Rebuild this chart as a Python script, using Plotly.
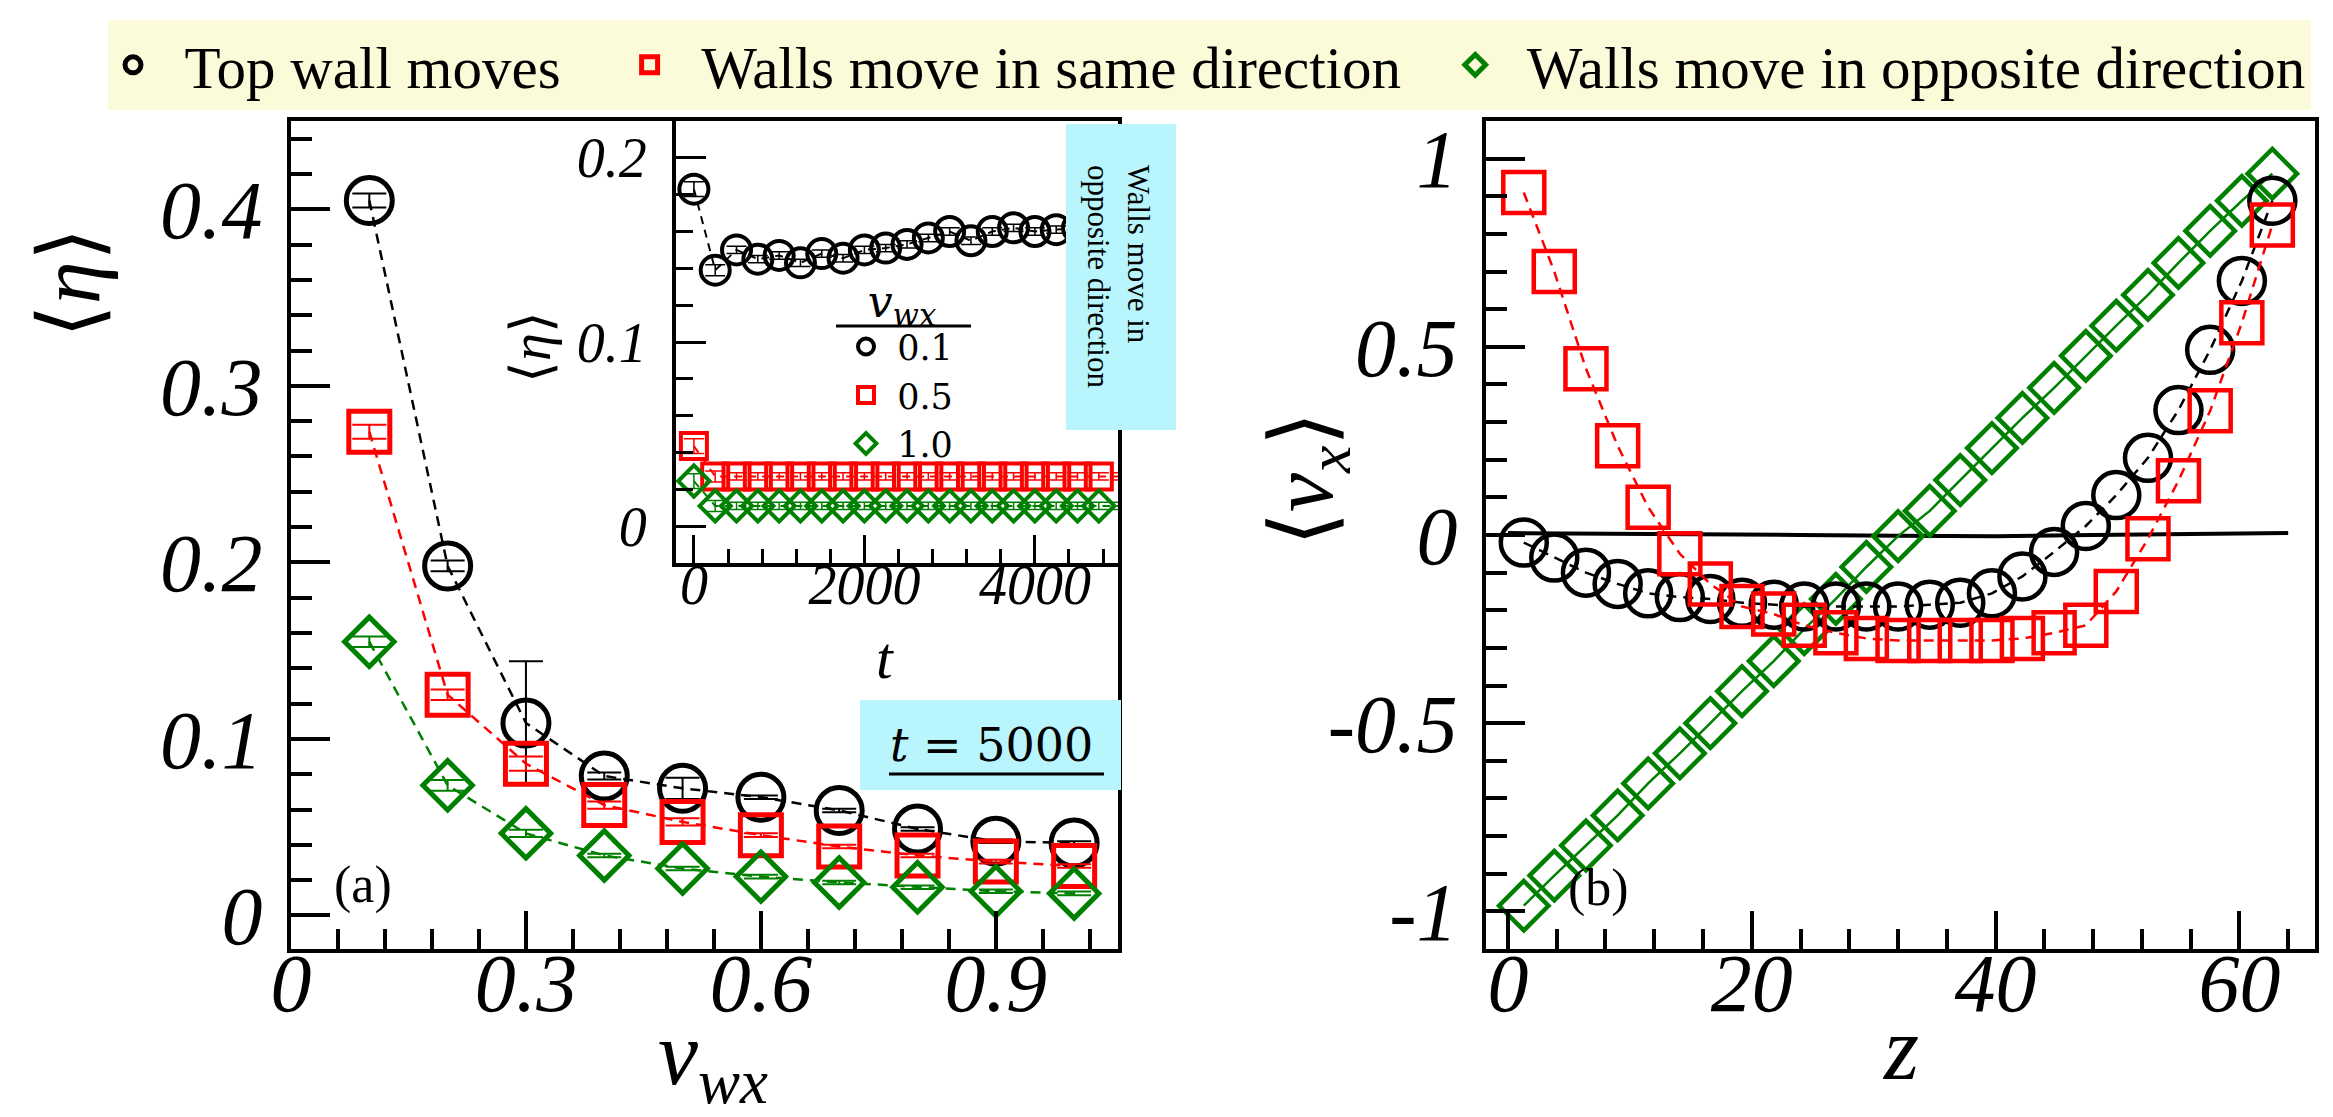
import plotly.graph_objects as go

W, H = 2333, 1117

# ---------------- data: panel (a) main ----------------
vwx = [0.1, 0.2, 0.3, 0.4, 0.5, 0.6, 0.7, 0.8, 0.9, 1.0]
eta_top = [0.405, 0.198, 0.109, 0.079, 0.072, 0.067, 0.0595, 0.049, 0.042, 0.041]
eta_top_err = [0.004, 0.003, 0.035, 0.002, 0.006, 0.001, 0.001, 0.001, 0.001, 0.001]
eta_same = [0.274, 0.125, 0.086, 0.0625, 0.053, 0.0455, 0.039, 0.034, 0.0305, 0.028]
eta_same_err = [0.004, 0.003, 0.004, 0.002, 0.002, 0.001, 0.001, 0.001, 0.001, 0.001]
eta_opp = [0.155, 0.0737, 0.0465, 0.034, 0.0266, 0.022, 0.0187, 0.016, 0.0137, 0.0125]
eta_opp_err = [0.003, 0.003, 0.002, 0.001, 0.001, 0.001, 0.001, 0.001, 0.001, 0.001]

# ---------------- data: panel (a) inset ----------------
t_vals = [0, 250, 500, 750, 1000, 1250, 1500, 1750, 2000, 2250, 2500, 2750, 3000,
          3250, 3500, 3750, 4000, 4250, 4500, 4750, 5000]
eta_t_01 = [0.183, 0.139, 0.150, 0.145, 0.147, 0.143, 0.148, 0.1455, 0.150, 0.151, 0.153,
            0.1565, 0.160, 0.155, 0.160, 0.162, 0.160, 0.161, 0.162, 0.163, 0.163]
eta_t_05 = [0.0435, 0.027, 0.027, 0.027, 0.027, 0.027, 0.027, 0.027, 0.027, 0.027, 0.027,
            0.027, 0.027, 0.027, 0.027, 0.027, 0.027, 0.027, 0.027, 0.027, 0.027]
eta_t_10 = [0.0245, 0.011, 0.011, 0.011, 0.011, 0.011, 0.011, 0.011, 0.011, 0.011, 0.011,
            0.011, 0.011, 0.011, 0.011, 0.011, 0.011, 0.011, 0.011, 0.011, 0.011]
inset_err = [0.004, 0.003, 0.002, 0.002, 0.002, 0.002, 0.002, 0.002, 0.002, 0.002, 0.002,
             0.002, 0.002, 0.002, 0.002, 0.002, 0.002, 0.002, 0.002, 0.002, 0.002]
inset_labels = ["0.1", "0.5", "1.0"]

# ---------------- data: panel (b) ----------------
z_vals = [1.3, 3.8, 6.4, 9.0, 11.5, 14.1, 16.6, 19.2, 21.8, 24.3, 26.9, 29.4, 32.0,
          34.6, 37.1, 39.7, 42.2, 44.8, 47.4, 49.9, 52.5, 55.0, 57.6, 60.2, 62.7]
vx_top = [-0.02, -0.06, -0.10, -0.13, -0.155, -0.165, -0.17, -0.18, -0.185, -0.19, -0.19,
          -0.19, -0.19, -0.185, -0.18, -0.155, -0.11, -0.045, 0.024, 0.106, 0.205,
          0.332, 0.492, 0.675, 0.888]
vx_same = [0.91, 0.70, 0.442, 0.237, 0.074, -0.05, -0.13, -0.19, -0.21, -0.24, -0.26,
           -0.275, -0.28, -0.28, -0.28, -0.28, -0.275, -0.26, -0.24, -0.15, -0.01,
           0.144, 0.33, 0.564, 0.824]
vx_opp = [-0.985, -0.905, -0.825, -0.745, -0.66, -0.58, -0.50, -0.415, -0.335, -0.25,
          -0.17, -0.085, -0.003, 0.064, 0.146, 0.231, 0.311, 0.391, 0.476, 0.556,
          0.638, 0.723, 0.808, 0.888, 0.960]
zero_z = [0, 8, 16, 24, 32, 40, 48, 56, 64]
zero_v = [0.005, 0.004, 0.002, 0.0, -0.002, -0.003, 0.0, 0.003, 0.005]

legend_names = ["Top wall moves", "Walls move in same direction",
                "Walls move in opposite direction"]
yb_ticks = [-1, -0.5, 0, 0.5, 1]
yb_ticktext = ["-1", "-0.5", "0", "0.5", "1"]

# ---------------- styling ----------------
BLACK, RED, GREEN = "#000000", "#ff0000", "#008000"
SERIF = "Liberation Serif, Times New Roman, serif"
MATH = "DejaVu Serif, serif"
LEG_BG = "#fbfbd9"
BOX_BG = "#b8f5fc"
NB = "\u00a0"
TH = "\u2009"
lead = NB + TH
trail = [NB * 4, NB * 3, ""]


def px(x):
    return x / W


def py(y):
    return 1 - y / H


fig = go.Figure()

# panel (a) main: dashed connecting lines, then markers (legend shows markers only)
specs_a = [(eta_top, eta_top_err, BLACK, "circle-open", 46),
           (eta_same, eta_same_err, RED, "square-open", 41),
           (eta_opp, eta_opp_err, GREEN, "diamond-open", 38)]
for i, ((vals, errs, col, sym, sz), name) in enumerate(zip(specs_a, legend_names)):
    fig.add_trace(go.Scatter(
        x=vwx, y=vals, mode="lines", showlegend=False,
        line=dict(color=col, width=2.5, dash="10px,7px"), xaxis="x", yaxis="y"))
    fig.add_trace(go.Scatter(
        x=vwx, y=vals, mode="markers", name=lead + name + trail[i],
        marker=dict(symbol=sym, size=sz, color=col, line=dict(width=5, color=col)),
        error_y=dict(type="data", array=errs, visible=True, color=col, thickness=2, width=17),
        xaxis="x", yaxis="y", legend="legend", cliponaxis=False))

# inset
specs_i = [(eta_t_01, BLACK, "circle-open", 29),
           (eta_t_05, RED, "square-open", 26),
           (eta_t_10, GREEN, "diamond-open", 24)]
for (vals, col, sym, sz), lab in zip(specs_i, inset_labels):
    fig.add_trace(go.Scatter(
        x=t_vals, y=vals, mode="lines", showlegend=False,
        line=dict(color=col, width=2, dash="8px,6px"), xaxis="x2", yaxis="y2",
        cliponaxis=False))
    fig.add_trace(go.Scatter(
        x=t_vals, y=vals, mode="markers", name=NB + lab,
        marker=dict(symbol=sym, size=sz, color=col, line=dict(width=4, color=col)),
        error_y=dict(type="data", array=inset_err, visible=True, color=col, thickness=1.5, width=10),
        xaxis="x2", yaxis="y2", legend="legend2", cliponaxis=False))

# panel (b)
fig.add_trace(go.Scatter(x=zero_z, y=zero_v, mode="lines", showlegend=False,
                         line=dict(color=BLACK, width=4), xaxis="x3", yaxis="y3"))
specs_b = [(vx_opp, GREEN, "diamond-open", 38, "solid"),
           (vx_top, BLACK, "circle-open", 46, "10px,7px"),
           (vx_same, RED, "square-open", 41, "10px,7px")]
for vals, col, sym, sz, dash in specs_b:
    fig.add_trace(go.Scatter(
        x=z_vals, y=vals, mode="lines+markers", showlegend=False,
        line=dict(color=col, width=2.5, dash=dash),
        marker=dict(symbol=sym, size=sz, color=col, line=dict(width=4.5, color=col)),
        xaxis="x3", yaxis="y3", cliponaxis=False))

tickfont_big = dict(family=SERIF, size=82, style="italic", color="black")
tickfont_small = dict(family=SERIF, size=56, style="italic", color="black")


def axis(domain, rng, dtick, mdtick, tlen, mlen, tw, font, anchor, standoff, lw=4, **kw):
    d = dict(domain=domain, range=rng, dtick=dtick, tick0=0, ticks="inside", ticklen=tlen,
             tickwidth=tw, tickcolor="black", showline=True, linecolor="black", linewidth=lw,
             mirror=True, showgrid=False, zeroline=False, tickfont=font, anchor=anchor,
             ticklabelstandoff=standoff, automargin=False,
             minor=dict(ticks="inside", ticklen=mlen, tickwidth=tw, tickcolor="black",
                        dtick=mdtick, showgrid=False))
    d.update(kw)
    return d


layout = dict(
    width=W, height=H, margin=dict(l=0, r=0, t=0, b=0, autoexpand=False),
    paper_bgcolor="white", plot_bgcolor="white",
    xaxis=axis([px(283), px(1110)], [0, 1.056], 0.3, 0.06, 38, 20, 4, tickfont_big, "y", -40),
    yaxis=axis([py(941), py(113)], [-0.019, 0.45], 0.1, 0.02, 39, 21, 4, tickfont_big, "x", 8),
    xaxis2=axis([px(668), px(1110)], [-210, 4975], 2000, 400, 28, 14, 3, tickfont_small, "y2", -30),
    yaxis2=axis([py(555), py(113)], [-0.02, 0.22], 0.1, 0.02, 30, 17, 3, tickfont_small, "x2", 14),
    xaxis3=axis([px(1478), px(2307)], [-1.8, 66.2], 20, 4, 38, 20, 4, tickfont_big, "y3", -40),
    yaxis3=axis([py(941), py(113)], [-1.1, 1.1], None, 0.1, 39, 21, 4, tickfont_big, "x3", 8,
                tickmode="array", tickvals=yb_ticks, ticktext=yb_ticktext),
    legend=dict(orientation="h", x=px(100), y=py(12), xanchor="left", yanchor="top",
                bgcolor=LEG_BG, borderwidth=0, font=dict(family=SERIF, size=59, color="black"),
                itemwidth=40, tracegroupgap=0),
    legend2=dict(orientation="v", x=px(838), y=py(252), xanchor="left", yanchor="top",
                 bgcolor="rgba(0,0,0,0)", borderwidth=0,
                 font=dict(family=MATH, size=35, color="black"),
                 title=dict(text="<i>v</i><sub><i>wx</i></sub>", side="top center",
                            font=dict(family=MATH, size=44, color="black")),
                 itemwidth=30, tracegroupgap=0),
    showlegend=True,
)
fig.update_layout(**layout)

shapes = [
    dict(type="rect", xref="paper", yref="paper", x0=px(1058), x1=px(1168), y0=py(422), y1=py(116),
         fillcolor=BOX_BG, line=dict(width=0), layer="above"),
    dict(type="rect", xref="paper", yref="paper", x0=px(852), x1=px(1113), y0=py(782), y1=py(692),
         fillcolor=BOX_BG, line=dict(width=0), layer="above"),
    dict(type="line", xref="paper", yref="paper", x0=px(881), x1=px(1096), y0=py(766), y1=py(766),
         line=dict(color="black", width=3), layer="above"),
    dict(type="line", xref="paper", yref="paper", x0=px(828), x1=px(963), y0=py(318), y1=py(318),
         line=dict(color="black", width=3), layer="above"),
]
fig.update_layout(shapes=shapes)

ann = []


def add_text(text, x, y, size, family=SERIF, angle=0, align="center", xanchor="center",
             yanchor="middle"):
    ann.append(dict(text=text, x=px(x), y=py(y), xref="paper", yref="paper", showarrow=False,
                    font=dict(family=family, size=size, color="black"), textangle=angle,
                    align=align, xanchor=xanchor, yanchor=yanchor))


add_text("\u27e8<i>\u03b7</i>\u27e9", 62, 275, 86, angle=-90)
add_text("<i>v</i><sub><i>wx</i></sub>", 705, 1052, 90)
add_text("\u27e8<i>v</i><sub><i>x</i></sub>\u27e9", 1300, 471, 88, angle=-90)
add_text("<i>z</i>", 1892, 1040, 90)
add_text("\u27e8<i>\u03b7</i>\u27e9", 523, 339, 56, angle=-90)
add_text("<i>t</i>", 877, 650, 60)
add_text("(a)", 355, 877, 52)
add_text("(b)", 1590, 880, 52)
add_text("Walls move in<br>opposite direction", 1110, 268, 31, angle=90, align="left")
add_text("<i>t</i> = 5000", 983, 737, 46, family=MATH)
fig.update_layout(annotations=ann)

fig.write_html("out.html")
